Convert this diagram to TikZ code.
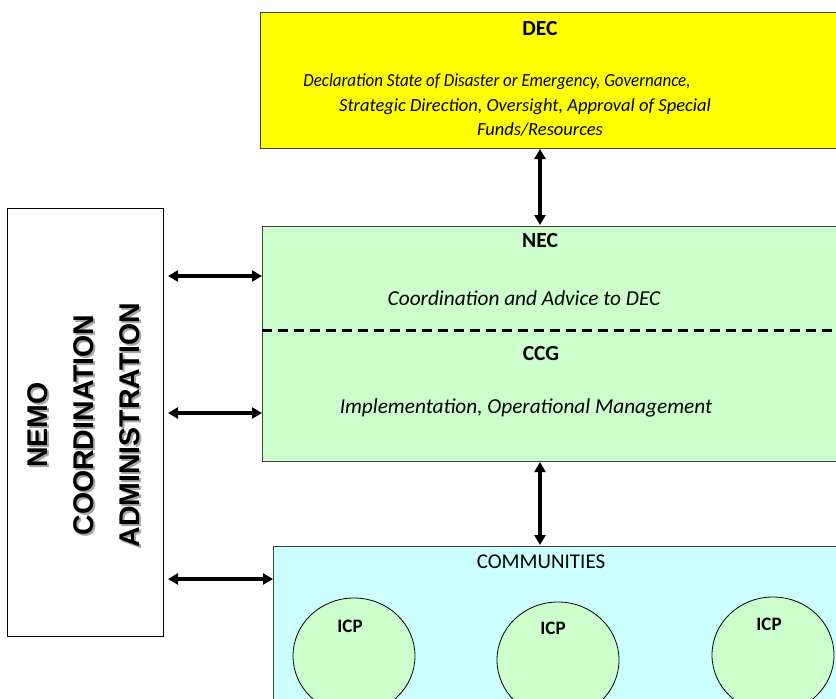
\documentclass[tikz,border=0pt]{standalone}
\usepackage{fontspec}
\setmainfont{Carlito}
\newfontfamily\arialfont{Liberation Sans}
\usetikzlibrary{positioning}
\usetikzlibrary{shapes.geometric}
\usetikzlibrary{arrows.meta}
\definecolor{decyellow}{HTML}{FFFF00}
\definecolor{necgreen}{HTML}{CCFFCC}
\definecolor{commcyan}{HTML}{CCFFFF}
\definecolor{boxline}{HTML}{404040}

\tikzset{
    box/.style={draw=boxline, line width=1pt, rectangle, inner sep=0pt, anchor=north west},
    title/.style={font=\fontsize{21.5}{24}\selectfont\bfseries},
    desc/.style={font=\fontsize{18.5}{24.5}\selectfont\itshape, align=center},
    bigdesc/.style={font=\fontsize{21.3}{26}\selectfont\itshape},
    link/.style={{Triangle[length=10pt,width=11pt]}-{Triangle[length=10pt,width=11pt]}, line width=3.5pt},
    icp/.style={ellipse, draw, line width=0.8pt, fill=necgreen, minimum width=122pt, minimum height=116pt},
    nemo/.style={rotate=90, align=center, font=\arialfont\fontsize{28.5}{46}\selectfont\bfseries}
}

\begin{document}
\begin{tikzpicture}[x=1pt,y=-1pt]
    \useasboundingbox (0,0) rectangle (836,699);
    \clip (0,0) rectangle (836,699);

    % Boxes
    \node[box, fill=decyellow, minimum width=590pt, minimum height=136pt] (DEC) at (260,12) {};
    \node[box, fill=necgreen, minimum width=590pt, minimum height=235pt] (NEC) at (262,226) {};
    \node[box, fill=commcyan, minimum width=580pt, minimum height=200pt] (COMM) at (273,546) {};
    \node[box, draw=black, fill=white, minimum width=156pt, minimum height=428pt] (NEMO) at (7,208) {};

    % Texts
    \node[desc] (DECd) at (540,105) {\scalebox{0.917}[1]{Declaration State of Disaster or Emergency, Governance,}\rule{86pt}{0pt}\\
        Strategic Direction, Oversight, Approval of Special\rule{30pt}{0pt}\\ Funds/Resources};
    \node[title] (DECt) at (540,29) {DEC};
    \node[title] (NECt) at (540,241) {NEC};
    \node[bigdesc] (NECd) at (524,298) {Coordination and Advice to DEC};
    \node[title] (CCGt) at (541,354) {CCG};
    \node[bigdesc] (CCGd) at (526,408) {Implementation, Operational Management};
    \node[font=\fontsize{21}{24}\selectfont] (COMMt) at (541,562) {COMMUNITIES};

    % NEMO label with its shadow
    \node[nemo, text=black!35] (NEMOs) at (86,427) {NEMO\\ COORDINATION\\ ADMINISTRATION};
    \node[nemo] (NEMOt) at (84,425) {NEMO\\ COORDINATION\\ ADMINISTRATION};

    % Split between NEC and CCG
    \draw[line width=3pt, dash pattern=on 10pt off 6pt] (NEC.west |- 0,330) -- (NEC.east |- 0,330);

    % ICP circles
    \node[icp] (icpA) at (354,656) {};
    \node[icp] (icpB) at (558,660) {};
    \node[icp] (icpC) at (773,655) {};
    \node[title, font=\fontsize{19}{22}\selectfont\bfseries] (icpAt) at (350,626) {ICP};
    \node[title, font=\fontsize{19}{22}\selectfont\bfseries] (icpBt) at (553,628) {ICP};
    \node[title, font=\fontsize{19}{22}\selectfont\bfseries] (icpCt) at (769,624) {ICP};

    % Connections
    \coordinate (rowA) at (0,276);
    \coordinate (rowB) at (0,413);
    \coordinate (rowC) at (0,579);
    \draw[link, shorten >=1pt] (DEC.south -| NECt) -- (NEC.north -| NECt);
    \draw[link, shorten >=1pt] (NEC.south -| NECt) -- (COMM.north -| NECt);
    \draw[link, shorten <=4pt] (NEMO.east |- rowA) -- (NEC.west |- rowA);
    \draw[link, shorten <=4pt] (NEMO.east |- rowB) -- (NEC.west |- rowB);
    \draw[link, shorten <=4pt] (NEMO.east |- rowC) -- (COMM.west |- rowC);
\end{tikzpicture}
\end{document}
